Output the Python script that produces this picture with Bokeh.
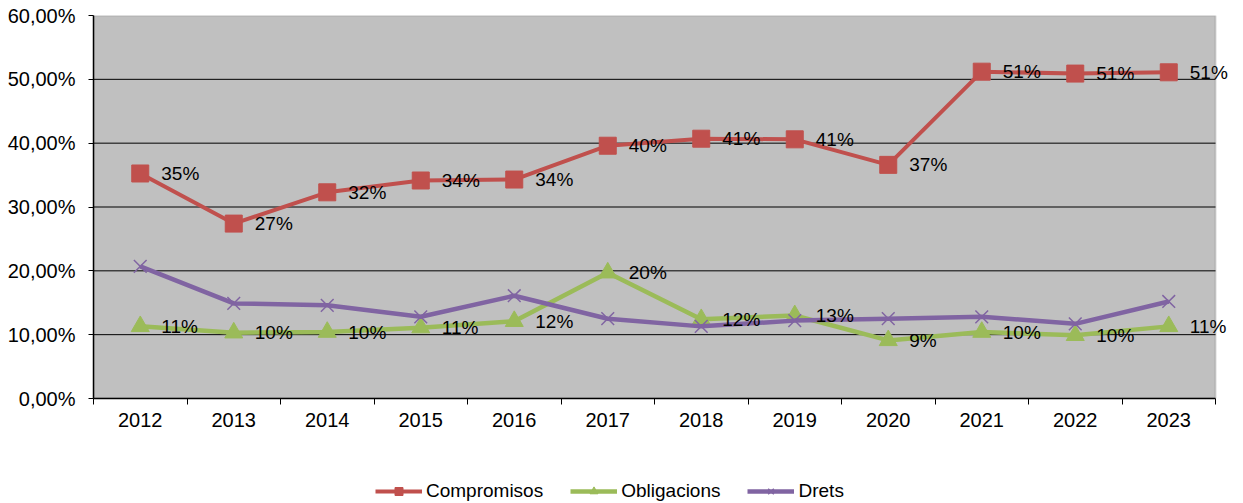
from bokeh.plotting import figure
from bokeh.layouts import column
from bokeh.models import (FixedTicker, CustomJSTickFormatter, Legend, LegendItem, Range1d,
                          ColumnDataSource, BoxAnnotation)
from bokeh.core.properties import value
from bokeh.embed import file_html
from bokeh.resources import INLINE

years = [2012, 2013, 2014, 2015, 2016, 2017, 2018, 2019, 2020, 2021, 2022, 2023]
compromisos = [35.25, 27.4, 32.3, 34.15, 34.3, 39.6, 40.7, 40.6, 36.6, 51.2, 50.9, 51.1]
obligacions = [11.3, 10.3, 10.4, 11.1, 12.1, 19.7, 12.4, 13.0, 9.1, 10.4, 9.9, 11.3]
drets = [20.7, 14.9, 14.6, 12.8, 16.1, 12.5, 11.3, 12.2, 12.5, 12.8, 11.7, 15.2]
y_ticks = [0, 10, 20, 30, 40, 50, 60]

FONT = "Liberation Sans"
FS = "19px"
AXFS = "20px"
RED, GREEN, PURPLE = "#C0504D", "#9BBB59", "#8064A2"

x0, x1 = years[0] - 0.5, years[-1] + 0.5
# plot area spans 93..1215 px; frame continues to 1243 so that end labels are not clipped
px_per_year = (1215 - 93) / len(years)
x_end = x1 + (1243 - 1215) / px_per_year

p = figure(width=1243, height=440, output_backend="svg", toolbar_location=None,
           x_range=Range1d(x0, x_end), y_range=Range1d(y_ticks[0], y_ticks[-1]),
           min_border_left=93, min_border_right=0, min_border_top=15, min_border_bottom=42)
p.border_fill_color = "white"
p.background_fill_color = "white"
p.outline_line_color = None

plot_area = BoxAnnotation(left=x0, right=x1, bottom=y_ticks[0], top=y_ticks[-1],
                          fill_color="#C0C0C0", fill_alpha=1.0,
                          line_color="#808080", line_width=2, level="underlay")
p.add_layout(plot_area)

# axes
p.xaxis.bounds = (x0, x1)
p.xaxis.ticker = FixedTicker(ticks=years, minor_ticks=[y - 0.5 for y in years] + [x1])
p.xaxis.major_tick_out = 0
p.xaxis.major_tick_in = 0
p.xaxis.minor_tick_out = 6
p.xaxis.minor_tick_in = 0
p.xaxis.minor_tick_line_color = "black"
p.xaxis.major_label_standoff = 8
p.xaxis.formatter = CustomJSTickFormatter(code="return String(tick);")

p.yaxis.ticker = FixedTicker(ticks=y_ticks, minor_ticks=[])
p.yaxis.formatter = CustomJSTickFormatter(code="return tick.toFixed(2).replace('.', ',') + '%';")
p.yaxis.major_tick_out = 5
p.yaxis.major_tick_in = 0
p.yaxis.minor_tick_out = 0
p.yaxis.minor_tick_in = 0
p.yaxis.major_label_standoff = 13

for ax in (p.xaxis, p.yaxis):
    ax.axis_line_color = "black"
    ax.axis_line_width = 1.5
    ax.major_tick_line_color = "black"
    ax.major_label_text_font = FONT
    ax.major_label_text_font_size = AXFS
    ax.major_label_text_color = "black"

p.grid.visible = False
grid_y = y_ticks[1:-1]
p.segment(x0=[x0] * len(grid_y), x1=[x1] * len(grid_y), y0=grid_y, y1=grid_y,
          line_color="black", line_width=1)

src = ColumnDataSource(dict(
    x=years, c=compromisos, o=obligacions, d=drets,
    cl=[f"{round(v)}%" for v in compromisos],
    ol=[f"{round(v)}%" for v in obligacions],
))

def draw(fig):
    lc = fig.line("x", "c", source=src, line_color=RED, line_width=4)
    mc = fig.scatter("x", "c", source=src, marker="square", size=17, fill_color=RED, line_color=RED)
    lo = fig.line("x", "o", source=src, line_color=GREEN, line_width=4.5)
    mo = fig.scatter("x", "o", source=src, marker="triangle", size=18, fill_color=GREEN, line_color=GREEN)
    ld = fig.line("x", "d", source=src, line_color=PURPLE, line_width=4.5)
    md = fig.scatter("x", "d", source=src, marker="x", size=18, line_color=PURPLE, line_width=1.5)
    return (lc, mc), (lo, mo), (ld, md)

draw(p)

for col, lab in (("c", "cl"), ("o", "ol")):
    p.text("x", col, text=lab, source=src, x_offset=21, text_baseline="middle", text_align="left",
           text_font=value(FONT), text_font_size=FS, text_color="black")

# legend strip below the chart (frame aligned with the main chart's frame, left at 93px)
lf = figure(width=1243, height=63, output_backend="svg", toolbar_location=None,
            x_range=Range1d(0, 1), y_range=Range1d(0, 1),
            min_border_left=0, min_border_right=0, min_border_top=0, min_border_bottom=0)
lf.axis.visible = False
lf.grid.visible = False
lf.outline_line_color = None
lf.background_fill_color = "white"
lf.border_fill_color = "white"
rc, ro, rd = draw(lf)

legend = Legend(items=[
    LegendItem(label="Compromisos", renderers=list(rc)),
    LegendItem(label="Obligacions", renderers=list(ro)),
    LegendItem(label="Drets", renderers=list(rd)),
], orientation="horizontal", location=(282, 1))
legend.background_fill_alpha = 0
legend.border_line_color = None
legend.padding = 0
legend.margin = 0
legend.spacing = 27
legend.glyph_width = 47
legend.glyph_height = 20
legend.label_standoff = 4
legend.label_text_font = FONT
legend.label_text_font_size = FS
legend.label_text_color = "black"
lf.add_layout(legend, "center")

layout = column(p, lf, spacing=0)
open("out.html", "w").write(file_html(layout, INLINE))
